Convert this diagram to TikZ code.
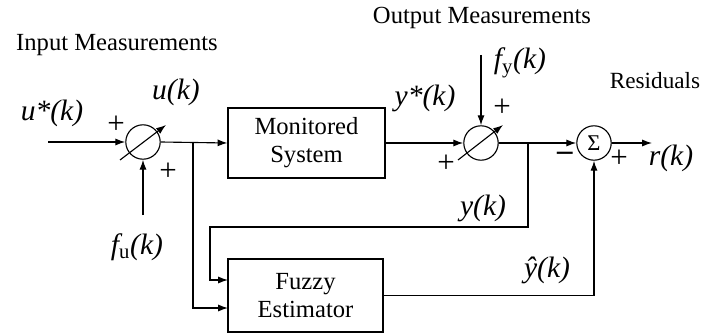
\documentclass[tikz,border=0pt]{standalone}
\usepackage{fontspec}
\setmainfont{Liberation Serif}
\usepackage{tikz}
\usetikzlibrary{arrows.meta}
\usetikzlibrary{positioning}

\begin{document}
\begin{tikzpicture}[x=0.025cm, y=-0.025cm, line width=0.8pt,
    arr/.style={-{Latex[length=7pt,width=5pt]}},
    blk/.style={draw, rectangle, align=center, font=\fontsize{17.5}{20}\selectfont},
    sumc/.style={draw, circle, inner sep=0pt, minimum size=0.86cm},
    lbl/.style={inner sep=0pt, font=\fontsize{21}{24}\selectfont\itshape},
    txt/.style={inner sep=0pt, font=\fontsize{17.5}{20}\selectfont},
    sgn/.style={inner sep=0pt, font=\fontsize{22}{24}\selectfont}]
    \useasboundingbox (0,0) rectangle (702,334);
    % blocks
    \node[sumc] (sum1) at (143,142) {};
    \node[sumc] (sum2) at (481,143) {};
    \node[sumc, font=\fontsize{16}{18}\selectfont] (sig) at (594,143) {Σ};
    \node[blk, minimum width=3.925cm, minimum height=1.75cm] (sys) at (306.5,143) {Monitored\\System};
    \node[blk, minimum width=3.875cm, minimum height=1.825cm] (fuz) at (305.5,295.5) {Fuzzy\\Estimator};
    % points
    \coordinate (in) at (48,142);
    \coordinate (fu) at (143,215);
    \coordinate (b1) at (193,142);
    \coordinate (fin1) at (228,280);
    \coordinate (fin2) at (228,308);
    \coordinate (fy) at (481,55);
    \coordinate (b2) at (528,143);
    \coordinate (c1) at (210,227);
    \coordinate (out) at (652,143);
    % texts
    \node[txt] (lin) at (117,45) {Input Measurements};
    \node[txt] (lout) at (482,18) {Output Measurements};
    \node[txt, font=\fontsize{16.5}{19}\selectfont] (lres) at (655,81) {Residuals};
    \node[lbl] (lus) at (52,113) {u*(k)};
    \node[lbl] (lu) at (176,92) {u(k)};
    \node[lbl] (lfu) at (137,247) {f\textsubscript{\upshape u}(k)};
    \node[lbl] (lys) at (425,98) {y*(k)};
    \node[lbl] (lfy) at (520,63) {f\textsubscript{\upshape y}(k)};
    \node[lbl] (lyk) at (483,208) {y(k)};
    \node[lbl] (lyh) at (547,270) {\^{y}(k)};
    \node[lbl] (lr) at (671,158) {r(k)};
    \foreach \n/\x/\y/\s in {p1/116/125/+, p2/168/172/+, p3/502/108/+,
      p4/446/164/+, m1/565/156/\textbf{\textendash}, p5/619/159/+}
      \node[sgn] (\n) at (\x,\y) {\s};
    % connections
    \foreach \i/\j in {in/sum1.west, fu/sum1.south, sum1.east/sys.west,
      sys.east/sum2.west, fy/sum2.north, sum2.east/sig.west, sig.east/out}
      \draw[arr] (\i) -- (\j);
    \draw[arr] (b1) |- (fin2);
    \draw[arr] (b2) |- (c1) |- (fin1);
    \draw[arr] (fuz.east) -| (sig.south);
    \draw[arr] (sum1) ++(-23,18) -- ++(46,-35);
    \draw[arr] (sum2) ++(-23,17) -- ++(45,-35);
\end{tikzpicture}
\end{document}
